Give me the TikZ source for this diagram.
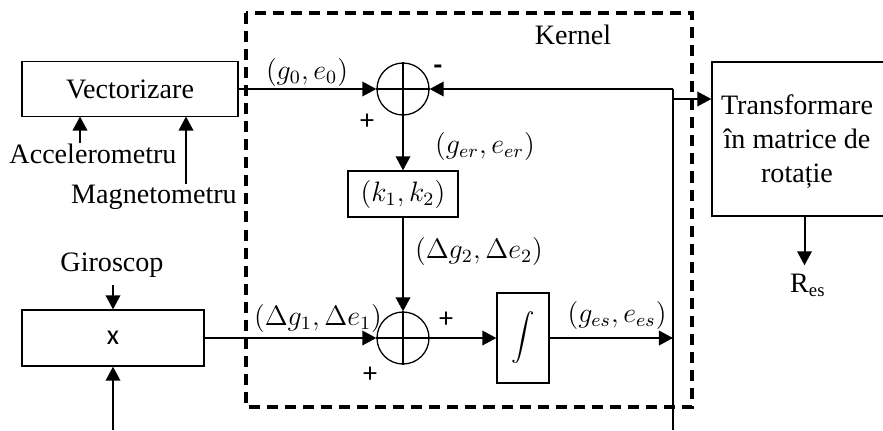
\documentclass[tikz,border=0pt]{standalone}
\usepackage{fontspec}
\setmainfont{Liberation Serif}
\newfontfamily\calibri{Carlito}
\usetikzlibrary{arrows.meta}
\begin{document}
\begin{tikzpicture}[x=0.015cm,y=-0.015cm,font=\fontsize{12}{14.5}\selectfont,
  blk/.style={draw,line width=0.55pt,inner sep=0pt,align=center},
  sumnode/.style={draw,circle,line width=0.55pt,minimum size=0.78cm,inner sep=0pt},
  sig/.style={line width=0.85pt,-{Triangle[length=6pt,width=6.2pt]}},
  sgn/.style={font=\fontsize{12}{14}\calibri}]
\useasboundingbox (0,0) rectangle (883,430);
\draw[line width=1.3pt,dash pattern=on 4.7pt off 3pt] (246,13) rectangle (692,407);
\node (kern) at (573,35) {Kernel};
\node[blk,minimum width=3.24cm,minimum height=0.825cm] (vec) at (130,89) {Vectorizare};
\node[blk,minimum width=2.73cm,minimum height=0.84cm] (mul) at (113,338) {\calibri x};
\node[sumnode] (s1) at (403,89) {};
\node[sumnode] (s2) at (403,338) {};
\draw[line width=0.55pt] (s1.north) -- (s1.south) (s1.west) -- (s1.east);
\draw[line width=0.55pt] (s2.north) -- (s2.south) (s2.west) -- (s2.east);
\node[blk,minimum width=1.65cm,minimum height=0.69cm] (kb) at (403,194) {$(k_1,k_2)$};
\node[blk,minimum width=0.78cm,minimum height=1.35cm] (integ) at (523,338) {$\displaystyle\int$};
\node[blk,minimum width=2.775cm,minimum height=2.31cm] (tr) at (804.5,139) {};
\node[align=center] (trtext) at (797,142) {Transformare\\în matrice de\\rotație};
\node[anchor=base,inner sep=0pt] (acc) at (93,163) {Accelerometru};
\node[anchor=base,inner sep=0pt] (mag) at (154,203) {Magnetometru};
\node[anchor=base] (gir) at (112,271) {Giroscop};
\node[anchor=base] (res) at (808,292) {R\textsubscript{es}};
\node (g0) at (307,72) {$(g_0,e_0)$};
\node (ger) at (485,146) {$(g_{er},e_{er})$};
\node (dg2) at (479,251) {$(\Delta g_2,\Delta e_2)$};
\node (dg1) at (318,318) {$(\Delta g_1,\Delta e_1)$};
\node (ges) at (617,315) {$(g_{es},e_{es})$};
\node[sgn,font=\fontsize{12}{14}\calibri\bfseries] (m1) at (438,70) {-};
\node[sgn] (p1) at (367,122) {+};
\node[sgn] (p2) at (446,320) {+};
\node[sgn] (p3) at (370,375) {+};
\coordinate (tap) at (673,89);
\coordinate (br) at (673,99);
\coordinate (bot) at (673,430);
\coordinate (mulin) at (113,430);
\coordinate (accin) at (80,116.5);
\coordinate (magin) at (186,116.5);
\draw[sig] (vec.east) -- (s1.west);
\draw[sig] (s1.south) -- (kb.north);
\draw[sig] (kb.south) -- (s2.north);
\draw[sig] (mul.east) -- (s2.west);
\draw[sig] (s2.east) -- (integ.west);
\draw[sig] (integ.east) -- (integ.east -| tap);
\draw[line width=1.1pt] (tap) -- (bot);
\draw[sig] (tap) -- (s1.east);
\draw[sig] (br) -- (br -| tr.west);
\draw[sig] (tr.south) -- (tr.south |- res.north);
\draw[sig] (acc.north -| accin) -- (accin);
\draw[sig] (mag.north -| magin) -- (magin);
\draw[sig] (gir.south -| mul.north) -- (mul.north);
\draw[sig] (mulin) -- (mul.south);
\end{tikzpicture}
\end{document}
